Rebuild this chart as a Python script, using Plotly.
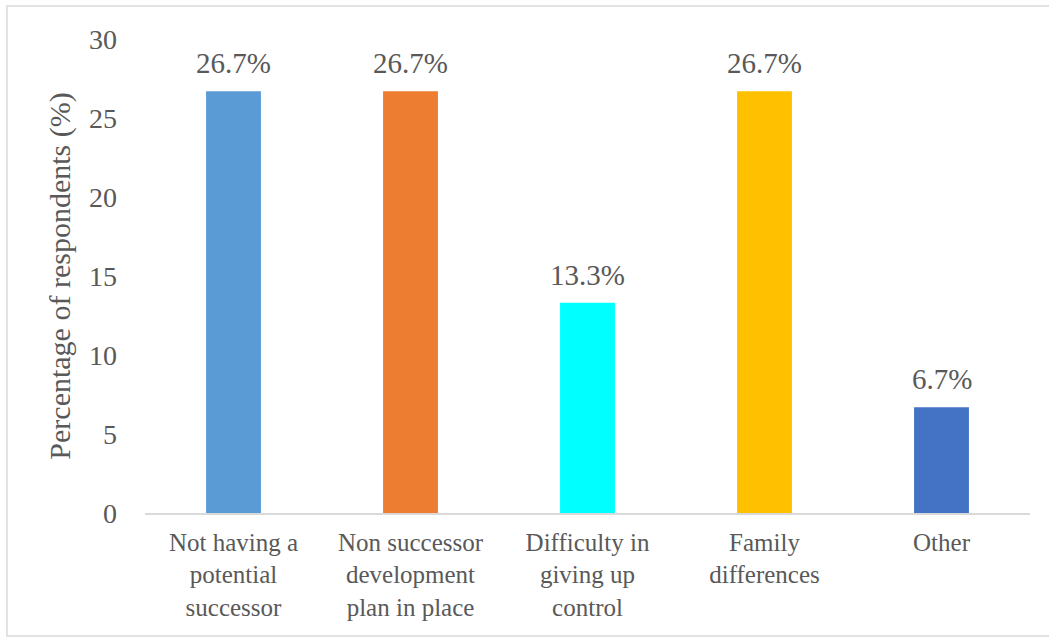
import plotly.graph_objects as go

categories = ["Not having a<br>potential<br>successor",
              "Non successor<br>development<br>plan in place",
              "Difficulty in<br>giving up<br>control",
              "Family<br>differences",
              "Other"]
values = [26.7, 26.7, 13.3, 26.7, 6.7]
labels = ["26.7%", "26.7%", "13.3%", "26.7%", "6.7%"]
colors = ["#5B9BD5", "#ED7D31", "#00FFFF", "#FFC000", "#4472C4"]
yticks = [0, 5, 10, 15, 20, 25, 30]

FONT = "Liberation Serif, Times New Roman, serif"
TXT = "#595959"

fig = go.Figure(go.Bar(x=categories, y=values, marker=dict(color=colors, line=dict(width=0)),
                       width=0.31, hoverinfo="skip"))

for c, v, t in zip(categories, values, labels):
    fig.add_annotation(x=c, y=v, text=t, showarrow=False, yanchor="bottom", yshift=10,
                       font=dict(family=FONT, size=29, color=TXT))

fig.update_layout(
    width=1049, height=637,
    margin=dict(l=145, r=19, t=39, b=124),
    plot_bgcolor="white", paper_bgcolor="white",
    showlegend=False,
    font=dict(family=FONT, color=TXT),
    bargap=0.69,
)
fig.update_xaxes(showline=True, linecolor="#D9D9D9", linewidth=1.5, showgrid=False,
                 ticks="", tickfont=dict(family=FONT, size=25, color=TXT), ticklabelstandoff=6)
fig.update_yaxes(range=[0, 30], tickvals=yticks, showgrid=False, zeroline=False, showline=False,
                 ticks="", tickfont=dict(family=FONT, size=28, color=TXT), ticklabelstandoff=27,
                 title=dict(text="Percentage of respondents (%)", standoff=9,
                            font=dict(family=FONT, size=30, color=TXT)))

fig.add_shape(type="rect", xref="paper", yref="paper", x0=-0.156, x1=1.03, y0=-0.2595, y1=1.0696,
              line=dict(color="#D9D9D9", width=1.5), fillcolor="rgba(0,0,0,0)", layer="below")

fig.write_html("out.html")
